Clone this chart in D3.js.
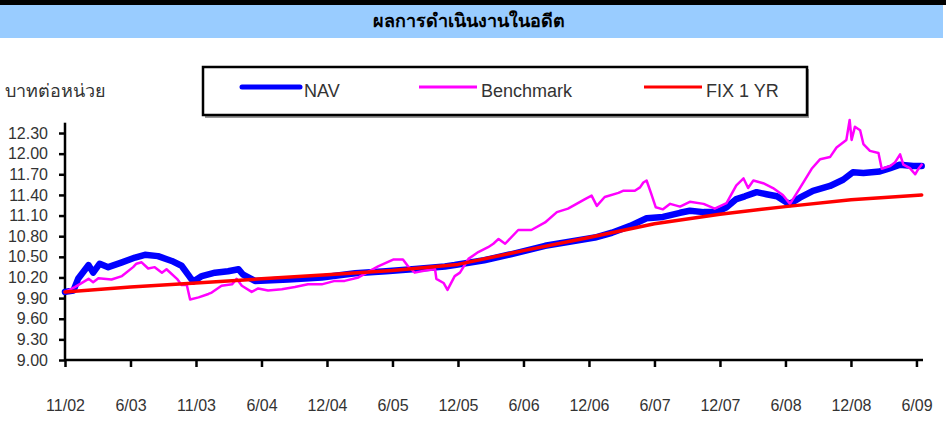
<!DOCTYPE html>
<html>
<head>
<meta charset="utf-8">
<script src="https://cdn.jsdelivr.net/npm/d3@7"></script>
<style>
  body { margin: 0; background: #fff; }
  svg { display: block; font-family: "Liberation Sans", Arial, sans-serif; }
</style>
</head>
<body>
<div id="chart"></div>
<script>
// category axis labels (evenly spaced in the original)
var xLabels = ["11/02", "6/03", "11/03", "6/04", "12/04", "6/05", "12/05",
  "6/06", "12/06", "6/07", "12/07", "6/08", "12/08", "6/09"];
var yTicks = [9.00, 9.30, 9.60, 9.90, 10.20, 10.50, 10.80, 11.10, 11.40, 11.70, 12.00, 12.30];

// [position on category axis, value]
var nav = [
  [0, 9.99], [0.13, 10.01], [0.2, 10.18], [0.36, 10.38], [0.43, 10.27], [0.53, 10.4],
  [0.66, 10.35], [0.87, 10.42], [1.07, 10.49], [1.22, 10.53], [1.42, 10.51], [1.63, 10.44],
  [1.78, 10.37], [1.91, 10.2], [1.96, 10.14], [2.09, 10.22], [2.29, 10.27], [2.49, 10.29],
  [2.65, 10.32], [2.72, 10.24], [2.9, 10.15], [3.41, 10.17], [3.92, 10.2], [4.43, 10.26],
  [4.9, 10.29], [5.3, 10.32], [5.8, 10.36], [5.95, 10.38], [6.4, 10.45], [6.82, 10.54],
  [7.33, 10.66], [7.7, 10.72], [8.09, 10.78], [8.35, 10.85], [8.63, 10.95], [8.88, 11.06],
  [9.13, 11.08], [9.39, 11.14], [9.54, 11.17], [9.75, 11.15], [9.95, 11.15], [10.1, 11.22],
  [10.25, 11.34], [10.38, 11.38], [10.56, 11.44], [10.71, 11.41], [10.87, 11.38], [11.02, 11.29],
  [11.07, 11.27], [11.22, 11.36], [11.42, 11.46], [11.68, 11.53], [11.88, 11.62], [12.03, 11.73],
  [12.19, 11.72], [12.44, 11.74], [12.6, 11.79], [12.75, 11.84], [12.95, 11.82], [13.08, 11.82]
];
var benchmark = [
  [0, 9.99], [0.15, 10.06], [0.36, 10.18], [0.43, 10.13], [0.51, 10.19], [0.71, 10.17],
  [0.87, 10.22], [1.04, 10.35], [1.09, 10.4], [1.17, 10.42], [1.27, 10.33], [1.37, 10.35],
  [1.48, 10.27], [1.55, 10.32], [1.71, 10.18], [1.78, 10.09], [1.86, 10.09], [1.91, 9.88],
  [2.04, 9.91], [2.19, 9.96], [2.24, 9.98], [2.39, 10.08], [2.55, 10.1], [2.62, 10.18],
  [2.7, 10.08], [2.85, 9.99], [2.95, 10.04], [3.1, 10.01], [3.31, 10.03], [3.51, 10.06],
  [3.71, 10.1], [3.92, 10.1], [4.12, 10.15], [4.27, 10.15], [4.48, 10.2], [4.78, 10.36],
  [5.01, 10.46], [5.16, 10.46], [5.24, 10.36], [5.34, 10.27], [5.5, 10.3], [5.65, 10.32],
  [5.67, 10.18], [5.78, 10.12], [5.84, 10.02], [5.95, 10.22], [6.03, 10.27], [6.16, 10.47],
  [6.31, 10.57], [6.46, 10.64], [6.54, 10.69], [6.62, 10.76], [6.72, 10.69], [6.92, 10.89],
  [7.12, 10.89], [7.33, 11.0], [7.51, 11.15], [7.68, 11.2], [7.94, 11.34], [8.04, 11.39],
  [8.12, 11.24], [8.24, 11.37], [8.45, 11.43], [8.52, 11.46], [8.7, 11.46], [8.78, 11.51],
  [8.83, 11.58], [8.88, 11.61], [8.95, 11.42], [9.02, 11.22], [9.13, 11.19], [9.24, 11.27],
  [9.39, 11.23], [9.54, 11.3], [9.75, 11.27], [9.92, 11.2], [10.1, 11.28], [10.25, 11.54],
  [10.36, 11.64], [10.43, 11.5], [10.51, 11.61], [10.66, 11.57], [10.81, 11.5], [10.96, 11.4],
  [11.07, 11.27], [11.22, 11.5], [11.4, 11.78], [11.53, 11.92], [11.68, 11.95], [11.78, 12.09],
  [11.93, 12.2], [11.98, 12.49], [12.01, 12.2], [12.06, 12.39], [12.14, 12.34], [12.19, 12.14],
  [12.29, 12.04], [12.42, 12.01], [12.47, 11.78], [12.6, 11.82], [12.67, 11.87], [12.75, 11.99],
  [12.8, 11.84], [12.9, 11.79], [12.98, 11.7], [13.03, 11.78], [13.08, 11.84]
];
var fix1yr = [
  [0, 9.99], [1, 10.06], [2, 10.12], [3, 10.18], [4, 10.24], [5, 10.3], [6, 10.39],
  [7, 10.59], [8, 10.78], [9, 10.98], [10, 11.12], [11, 11.23], [12, 11.33], [13.08, 11.4]
];

var seriesNames = ["NAV", "Benchmark", "FIX 1 YR"];
var seriesColors = ["#0000ff", "#ff00ff", "#ff0000"];
var seriesWidths = [6.5, 2.5, 3.5];

var W = 946, H = 421;
var svg = d3.select("#chart").append("svg").attr("width", W).attr("height", H);

// header band
svg.append("rect").attr("x", 0).attr("y", 0).attr("width", W).attr("height", 5).attr("fill", "#000");
svg.append("rect").attr("x", 0).attr("y", 5).attr("width", 943).attr("height", 33).attr("fill", "#99ccff");
svg.append("text").attr("x", 469).attr("y", 27).attr("text-anchor", "middle")
  .style("font-size", "18px").style("font-weight", "bold").attr("fill", "#000")
  .text("ผลการดำเนินงานในอดีต");

var x = d3.scaleLinear().domain([0, 13.1]).range([65, 923]);
var y = d3.scaleLinear().domain([9, 12.45]).range([360, 122.7]);

// y axis
var yAxis = svg.append("g").attr("transform", "translate(65,0)")
  .call(d3.axisLeft(y).tickValues(yTicks).tickSize(6).tickPadding(11).tickFormat(d3.format(".2f")));
yAxis.select(".domain").attr("d", "M0," + y(9) + "V" + y.range()[1]).attr("stroke-width", 2.5);
yAxis.selectAll(".tick line").attr("stroke-width", 2.5);
yAxis.selectAll("text").style("font-size", "16px").attr("fill", "#333").attr("font-family", "'Liberation Sans', Arial, sans-serif");

// x axis
var xAxis = svg.append("g").attr("transform", "translate(0,360)")
  .call(d3.axisBottom(x).tickValues(d3.range(xLabels.length)).tickSize(7).tickPadding(33)
    .tickFormat(function(d) { return xLabels[d]; }));
xAxis.select(".domain").attr("d", "M" + x(0) + ",0H" + x.range()[1]).attr("stroke-width", 2.5);
xAxis.selectAll(".tick line").attr("stroke-width", 2.5);
xAxis.selectAll("text").style("font-size", "16px").attr("fill", "#333").attr("font-family", "'Liberation Sans', Arial, sans-serif");

// y title
svg.append("text").attr("x", 5).attr("y", 97).style("font-size", "18px").attr("fill", "#333")
  .text("บาทต่อหน่วย");

var line = d3.line().x(function(d) { return x(d[0]); }).y(function(d) { return y(d[1]); });
[nav, benchmark, fix1yr].forEach(function(data, i) {
  svg.append("path").datum(data)
    .attr("d", line)
    .attr("fill", "none")
    .attr("stroke", seriesColors[i])
    .attr("stroke-width", seriesWidths[i])
    .attr("stroke-linejoin", "round")
    .attr("stroke-linecap", "round");
});

// legend
var legend = svg.append("g");
legend.append("rect").attr("x", 205).attr("y", 69).attr("width", 604).attr("height", 49).attr("fill", "#999");
legend.append("rect").attr("x", 203).attr("y", 67).attr("width", 604).attr("height", 48)
  .attr("fill", "#fff").attr("stroke", "#000").attr("stroke-width", 2.5);
var legX = [242, 419, 644];
seriesNames.forEach(function(name, i) {
  legend.append("line").attr("x1", legX[i]).attr("x2", legX[i] + 58).attr("y1", 87).attr("y2", 87)
    .attr("stroke", seriesColors[i]).attr("stroke-width", i === 0 ? 5 : 3)
    .attr("stroke-linecap", i === 0 ? "round" : "butt");
  legend.append("text").attr("x", legX[i] + 62).attr("y", 97).style("font-size", "18px")
    .attr("fill", "#333").text(name);
});
</script>
</body>
</html>
